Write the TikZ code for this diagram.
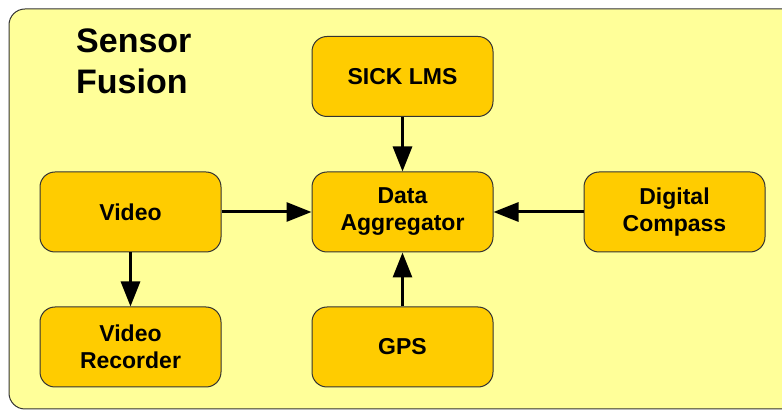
\documentclass[tikz,border=0pt]{standalone}
\usepackage{fontspec}
\setmainfont{Liberation Sans}
\usetikzlibrary{arrows.meta}
\definecolor{bgyellow}{HTML}{FFFF99}
\definecolor{boxgold}{HTML}{FFCC00}
\definecolor{edgegrey}{HTML}{333333}
\begin{document}
\begin{tikzpicture}[x=1pt,y=-1pt,
  blk/.style={draw=edgegrey, line width=1pt, fill=boxgold, rounded corners=15pt,
    minimum width=181pt, minimum height=80pt, align=center,
    font=\fontsize{23}{27}\selectfont\bfseries, inner sep=0pt},
  conn/.style={line width=3pt, -{Triangle[length=25pt,width=19pt]}}]
\useasboundingbox (0,0) rectangle (782,411);
\clip (0,0) rectangle (782,411);
\draw[draw=edgegrey, line width=1pt, fill=bgyellow, rounded corners=16pt] (9,9) rectangle (830,409);
\node[anchor=north west, align=left, inner sep=0pt, font=\fontsize{34}{41}\selectfont\bfseries] (title) at (76,29) {Sensor\\Fusion};
\node[blk] (sick) at (402.5,76.5) {SICK LMS};
\node[blk] (agg) at (402.5,212) {Data\\Aggregator};
\node[blk] (gps) at (402.5,347) {GPS};
\node[blk] (video) at (130.5,212) {Video};
\node[blk] (rec) at (130.5,347) {Video\\Recorder};
\node[blk] (comp) at (674.5,212) {Digital\\Compass};
\draw[conn] (sick) -- (agg);
\draw[conn] (gps) -- (agg);
\draw[conn] (video) -- (agg);
\draw[conn] (comp) -- (agg);
\draw[conn] (video) -- (rec);
\end{tikzpicture}
\end{document}
